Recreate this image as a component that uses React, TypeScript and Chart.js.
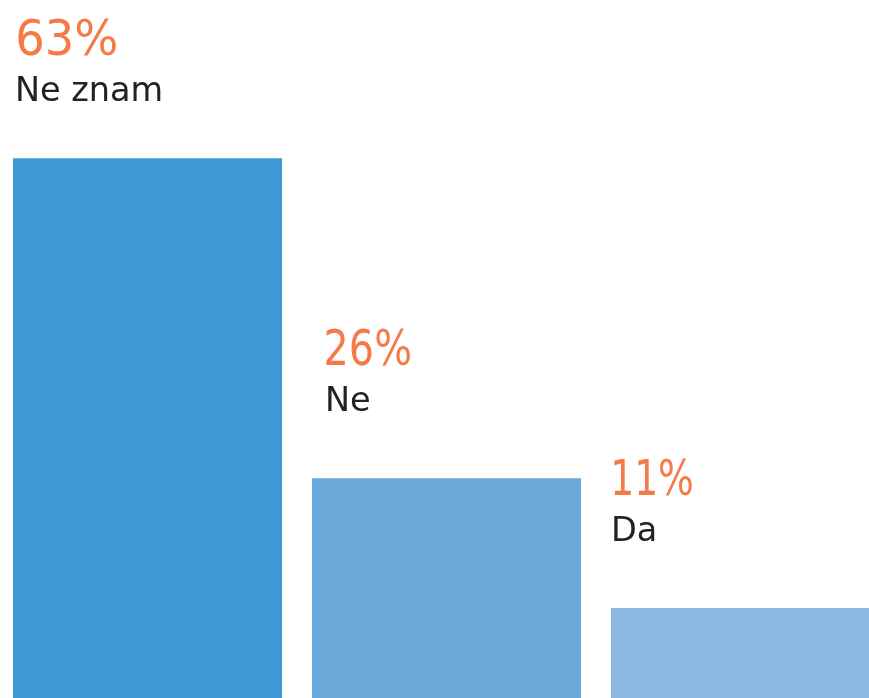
import React, { useEffect, useRef } from "react";
import { Chart, registerables } from "chart.js";

Chart.register(...registerables);

const categories = ["Ne znam", "Ne", "Da"];
const values = [63, 26, 11];
const percentLabels = ["63%", "26%", "11%"];
const barColors = ["#4098d4", "#6aa8da", "#8cb7e1"];

const labelPlugin = {
  id: "barTextLabels",
  afterDatasetsDraw(chart: any) {
    const ctx = chart.ctx;
    const meta = chart.getDatasetMeta(0);
    const pctInk = [5, 14, 3];
    const catInk = [5, 16, 3];
    const pctWidth = [98, 84, 78];
    meta.data.forEach((bar: any, i: number) => {
      const left = bar.x - bar.width / 2;
      const pctBase = Math.max(bar.y - 113, 55);
      ctx.save();
      ctx.textAlign = "left";
      ctx.textBaseline = "alphabetic";
      ctx.fillStyle = "#f47a48";
      ctx.font = "50px 'DejaVu Sans'";
      const m = ctx.measureText(percentLabels[i]);
      const inkW = m.actualBoundingBoxRight + m.actualBoundingBoxLeft;
      const sx = pctWidth[i] / inkW;
      ctx.translate(left + pctInk[i], pctBase);
      ctx.scale(sx, 1);
      ctx.fillText(percentLabels[i], m.actualBoundingBoxLeft, 0);
      ctx.restore();

      ctx.save();
      ctx.fillStyle = "#222222";
      ctx.font = "33.5px 'DejaVu Sans'";
      const m2 = ctx.measureText(categories[i]);
      ctx.fillText(categories[i], left + catInk[i] + m2.actualBoundingBoxLeft, pctBase + 46);
      ctx.restore();
    });
  },
};

export default function App() {
  const ref = useRef<HTMLCanvasElement | null>(null);
  useEffect(() => {
    if (!ref.current) return;
    const chart = new Chart(ref.current, {
      type: "bar",
      data: {
        labels: categories,
        datasets: [
          {
            data: values,
            backgroundColor: barColors,
            borderWidth: 0,
            categoryPercentage: 1,
            barPercentage: 0.9,
          },
        ],
      },
      options: {
        responsive: false,
        animation: false,
        devicePixelRatio: 1,
        layout: { padding: 0 },
        plugins: { legend: { display: false }, tooltip: { enabled: false } },
        scales: {
          x: { display: false },
          y: { display: false, min: 0, max: 81.3 },
        },
      },
      plugins: [labelPlugin],
    });
    return () => chart.destroy();
  }, []);
  return (
    <div
      style={{
        position: "absolute",
        left: 0,
        top: 0,
        width: 869,
        height: 698,
        overflow: "hidden",
        background: "#fff",
      }}
    >
      <canvas
        ref={ref}
        width={897}
        height={703}
        style={{ position: "absolute", left: -2, top: 0, width: 897, height: 703 }}
      />
    </div>
  );
}
